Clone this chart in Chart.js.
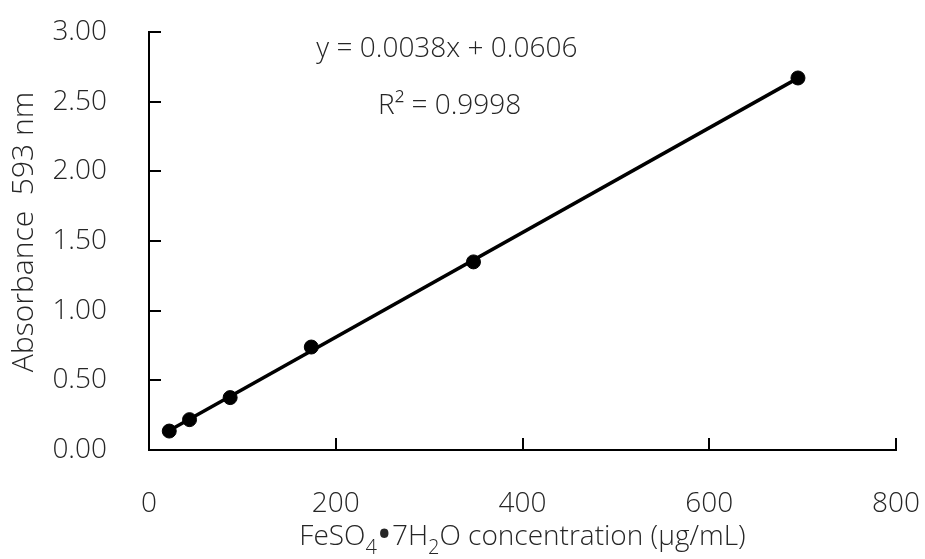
<!DOCTYPE html>
<html>
<head>
<meta charset="utf-8">
<title>FeSO4 standard curve</title>
<script src="https://cdn.jsdelivr.net/npm/chart.js@4.4.1/dist/chart.umd.min.js"></script>
<style>
  html, body { margin: 0; padding: 0; background: #fff; }
  #wrap { width: 925px; height: 559px; position: relative; }
</style>
</head>
<body>
<div id="wrap"><canvas id="stdCurve"></canvas></div>
<script>
// standard curve readings
const concentration = [21.7, 43.4, 86.9, 173.8, 347.5, 695];   // µg/mL
const absorbance = [0.136, 0.218, 0.376, 0.739, 1.350, 2.670];  // A593
const xTicks = [0, 200, 400, 600, 800];
const yTicks = [0, 0.5, 1, 1.5, 2, 2.5, 3];
const equationText = 'y = 0.0038x + 0.0606';
const r2Text = 'R² = 0.9998';

const FONT = '"Open Sans", "Noto Sans", sans-serif';
const TXT = '#262626';

// least squares trendline through the readings
function linearFit(xs, ys) {
  const n = xs.length;
  const mx = xs.reduce((a, b) => a + b, 0) / n;
  const my = ys.reduce((a, b) => a + b, 0) / n;
  let sxy = 0, sxx = 0;
  for (let i = 0; i < n; i++) {
    sxy += (xs[i] - mx) * (ys[i] - my);
    sxx += (xs[i] - mx) * (xs[i] - mx);
  }
  const slope = sxy / sxx;
  return { slope, intercept: my - slope * mx };
}
const fit = linearFit(concentration, absorbance);
const xMin = Math.min(...concentration), xMax = Math.max(...concentration);
const trend = [xMin, xMax].map(x => ({ x, y: fit.slope * x + fit.intercept }));

const points = concentration.map((x, i) => ({ x, y: absorbance[i] }));

// inward tick marks, axis titles and the equation text
const decorations = {
  id: 'decorations',
  afterDraw(chart) {
    const { ctx, chartArea, scales } = chart;
    const x = scales.x, y = scales.y;
    ctx.save();
    ctx.strokeStyle = '#000';
    ctx.lineWidth = 2;
    ctx.beginPath();
    yTicks.forEach(v => {
      const py = Math.round(y.getPixelForValue(v));
      ctx.moveTo(chartArea.left, py);
      ctx.lineTo(chartArea.left + 12, py);
    });
    xTicks.forEach(v => {
      const px = Math.round(x.getPixelForValue(v));
      ctx.moveTo(px, chartArea.bottom);
      ctx.lineTo(px, chartArea.bottom - 12);
    });
    ctx.stroke();

    ctx.fillStyle = TXT;
    ctx.textBaseline = 'middle';
    ctx.textAlign = 'center';

    // y axis title
    ctx.save();
    ctx.font = '300 30px ' + FONT;
    ctx.translate(24, 232);
    ctx.rotate(-Math.PI / 2);
    ctx.fillText('Absorbance  593 nm', 0, 0);
    ctx.restore();

    // equation and R²
    ctx.font = '300 28px ' + FONT;
    ctx.fillText(equationText, x.getPixelForValue(319), y.getPixelForValue(2.88));
    ctx.fillText(r2Text, x.getPixelForValue(322), y.getPixelForValue(2.47));

    // x axis title with subscripts
    const mainFont = '300 28px ' + FONT;
    const subFont = '300 20px ' + FONT;
    const dotFont = '400 40px ' + FONT;
    const parts = [
      ['FeSO', mainFont, 0], ['4', subFont, 11], ['•', dotFont, 0],
      ['7H', mainFont, 0], ['2', subFont, 11], ['O concentration (µg/mL)', mainFont, 0]
    ];
    let total = 0;
    parts.forEach(([t, f]) => { ctx.font = f; total += ctx.measureText(t).width; });
    let cx = (chartArea.left + chartArea.right) / 2 - total / 2;
    const baseY = 537;
    ctx.textAlign = 'left';
    parts.forEach(([t, f, dy]) => {
      ctx.font = f;
      ctx.fillText(t, cx, baseY + dy);
      cx += ctx.measureText(t).width;
    });
    ctx.restore();
  }
};

new Chart(document.getElementById('stdCurve').getContext('2d'), {
  type: 'scatter',
  data: {
    datasets: [
      {
        label: 'Absorbance',
        data: points,
        backgroundColor: '#000',
        borderColor: '#000',
        pointRadius: 7,
        pointHoverRadius: 7,
        order: 1
      },
      {
        label: 'Linear',
        type: 'line',
        data: trend,
        borderColor: '#000',
        borderWidth: 3.5,
        pointRadius: 0,
        fill: false,
        order: 2
      }
    ]
  },
  options: {
    responsive: true,
    maintainAspectRatio: false,
    animation: false,
    layout: { padding: { top: 32, right: 29, left: 0, bottom: 0 } },
    scales: {
      x: {
        type: 'linear',
        min: 0,
        max: 800,
        afterBuildTicks: s => { s.ticks = xTicks.map(v => ({ value: v })); },
        afterFit: s => { s.height = 109; s.paddingLeft = 0; s.paddingRight = 0; },
        grid: { display: false, drawTicks: false },
        border: { display: true, color: '#000', width: 2 },
        ticks: { color: TXT, padding: 37, maxRotation: 0, font: { family: FONT, size: 28, weight: 300 } }
      },
      y: {
        min: 0,
        max: 3,
        afterBuildTicks: s => { s.ticks = yTicks.map(v => ({ value: v })); },
        afterFit: s => { s.width = 149; s.paddingTop = 0; s.paddingBottom = 0; },
        grid: { display: false, drawTicks: false },
        border: { display: true, color: '#000', width: 2 },
        ticks: {
          color: TXT,
          padding: 42,
          font: { family: FONT, size: 28, weight: 300 },
          callback: v => Number(v).toFixed(2)
        }
      }
    },
    plugins: {
      legend: { display: false },
      tooltip: { enabled: false }
    }
  },
  plugins: [decorations]
});
</script>
</body>
</html>
